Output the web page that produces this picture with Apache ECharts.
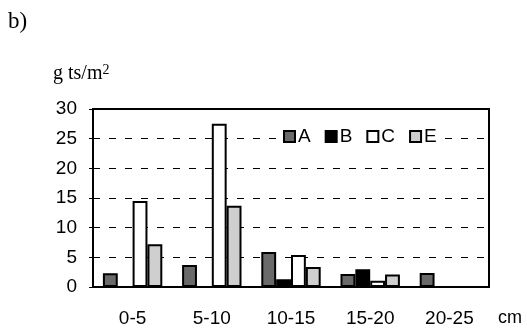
<!DOCTYPE html>
<html><head><meta charset="utf-8">
<script src="https://cdn.jsdelivr.net/npm/echarts@6/dist/echarts.min.js"></script>
<style>html,body{margin:0;padding:0;background:#fff}#c{width:527px;height:328px}</style>
</head><body><div id="c"></div>
<script>
const categories = ['0-5', '5-10', '10-15', '15-20', '20-25'];
const seriesA = [2.3, 3.7, 5.9, 2.2, 2.35];
const seriesB = [0, 0, 1.3, 3.0, 0];
const seriesC = [14.5, 27.5, 5.4, 1.05, 0];
const seriesE = [7.2, 13.7, 3.35, 2.1, 0];
const yTicks = [0, 5, 10, 15, 20, 25, 30];

const chart = echarts.init(document.getElementById('c'), null, {renderer: 'canvas'});
const mk = (name, data, color) => ({
  name, type: 'bar', data, barGap: '0%', barCategoryGap: '25%',
  itemStyle: {color, borderColor: '#000', borderWidth: 2},
  emphasis: {disabled: true}
});
chart.setOption({
  animation: false,
  textStyle: {fontFamily: 'Liberation Sans, Arial, sans-serif'},
  grid: {left: 93, right: 38, top: 109, bottom: 40, show: true, borderColor: '#000', borderWidth: 2, backgroundColor: 'transparent'},
  legend: {
    data: ['A', 'B', 'C', 'E'], left: 277, top: 124, icon: 'rect',
    itemWidth: 11, itemHeight: 11, itemGap: 14, padding: [3, 6],
    backgroundColor: '#fff',
    textStyle: {fontSize: 19, color: '#000', padding: [0, 0, 0, -2]}
  },
  xAxis: {
    type: 'category', data: categories,
    axisLine: {lineStyle: {color: '#000', width: 2}},
    axisTick: {show: false},
    axisLabel: {color: '#000', fontSize: 19, margin: 22}
  },
  yAxis: {
    type: 'value', min: 0, max: 30, interval: 5,
    axisLine: {show: true, lineStyle: {color: '#000', width: 2}},
    axisTick: {show: true, length: 4, lineStyle: {color: '#000'}},
    axisLabel: {color: '#000', fontSize: 19, margin: 16,
      formatter: v => yTicks.includes(v) ? String(v) : ''},
    splitLine: {show: true, lineStyle: {color: '#000', width: 1, type: [7, 9]}}
  },
  graphic: [
    {type: 'text', left: 8, top: 10, style: {text: 'b)', font: '23px "Liberation Serif", "Times New Roman", serif', fill: '#000'}},
    {type: 'text', left: 53, top: 63, style: {
      text: '{a|g ts/m}{s|2}',
      rich: {
        a: {font: '20px "Liberation Serif", "Times New Roman", serif', fill: '#000', color: '#000'},
        s: {font: '14px "Liberation Serif", "Times New Roman", serif', fill: '#000', color: '#000', verticalAlign: 'top', padding: [0, 0, 8, 0]}
      }
    }},
    {type: 'text', left: 498, top: 309, style: {text: 'cm', font: '18px "Liberation Sans", Arial, sans-serif', fill: '#000'}}
  ],
  series: [
    mk('A', seriesA, '#6a6a6a'),
    mk('B', seriesB, '#000'),
    mk('C', seriesC, '#fff'),
    mk('E', seriesE, '#cfcfcf')
  ]
});
</script></body></html>
